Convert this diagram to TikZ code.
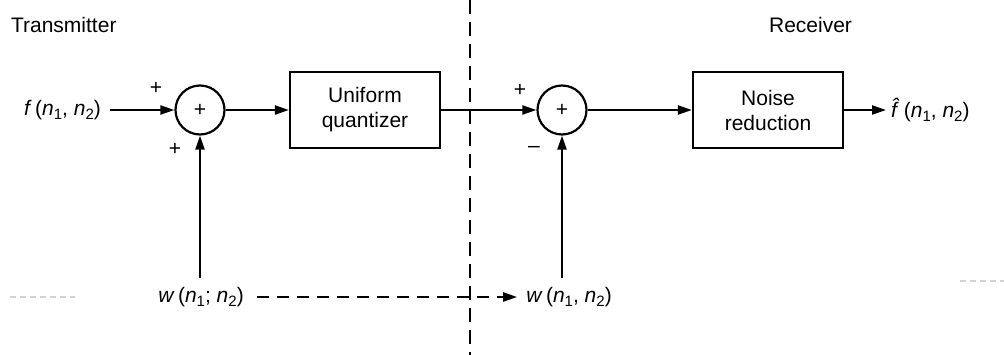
\documentclass[tikz,border=0pt]{standalone}
\usepackage{fontspec}
\setmainfont{Liberation Sans}
\usetikzlibrary{arrows.meta}
\newcommand{\subx}[1]{\raisebox{-0.35ex}{\fontsize{15}{17}\selectfont #1}}
\newcommand{\vn}{\textit{n}}
\begin{document}
\begin{tikzpicture}[x=1pt,y=-1pt,
  line width=2.2pt,
  every node/.style={font=\fontsize{21}{25}\selectfont},
  sumnode/.style={draw,circle,minimum size=49pt,inner sep=0pt},
  blockbox/.style={draw,rectangle,minimum width=150pt,minimum height=76pt,align=center,inner sep=2pt},
  sig/.style={-{Triangle[length=14pt,width=9pt]}},
  lbl/.style={inner sep=0pt,font=\fontsize{21}{25}\selectfont},
  faint/.style={draw=gray!35,line width=1.2pt,dash pattern=on 6pt off 4pt}
]
\useasboundingbox (0,0) rectangle (1004,355);
\node[lbl,anchor=west] (tx) at (10,25) {Transmitter};
\node[lbl,anchor=west] (rx) at (768,25) {Receiver};
\node[lbl,anchor=east] (f) at (102,110) {\textit{f}\,(\vn\subx{1}, \vn\subx{2})};
\node[sumnode] (s1) at (200,110) {+};
\node[blockbox] (q) at (365,110) {Uniform\\quantizer};
\node[sumnode] (s2) at (562,110) {+};
\node[blockbox] (nr) at (768,110) {Noise\\reduction};
\node[lbl,anchor=west] (fh) at (890,110) {\textit{\^{f}}\,(\vn\subx{1}, \vn\subx{2})};
\node[lbl] (w1) at (201,297) {\textit{w}\,(\vn\subx{1}; \vn\subx{2})};
\node[lbl] (w2) at (569,297) {\textit{w}\,(\vn\subx{1}, \vn\subx{2})};
\node[lbl] (p1) at (156,88) {+};
\node[lbl] (p2) at (175,149) {+};
\node[lbl] (p3) at (520,90) {+};
\node[lbl] (m1) at (534,149) {\textendash};
\coordinate (dtop) at (470,0);
\coordinate (dbot) at (470,355);
\draw[dash pattern=on 14pt off 8pt] (dtop) -- (dbot);
\draw[sig] (f.east) ++(8,0) -- (s1.west);
\draw[sig] (s1.east) -- (q.west);
\draw[sig] (q.east) -- (s2.west);
\draw[sig] (s2.east) -- (nr.west);
\draw[sig] (nr.east) -- ([xshift=-4pt]fh.west);
\draw[sig] (s1 |- w1.north) ++(0,-8) -- (s1.south);
\draw[sig] (s2 |- w2.north) ++(0,-8) -- (s2.south);
\draw[sig,dash pattern=on 12pt off 8pt] (w1.east) ++(12,0) -- ([xshift=-8pt]w2.west);
\coordinate (fl1) at (10,297);
\coordinate (fl2) at (75,297);
\coordinate (fr1) at (960,281);
\coordinate (fr2) at (1004,281);
\draw[faint] (fl1) -- (fl2);
\draw[faint] (fr1) -- (fr2);
\end{tikzpicture}
\end{document}
